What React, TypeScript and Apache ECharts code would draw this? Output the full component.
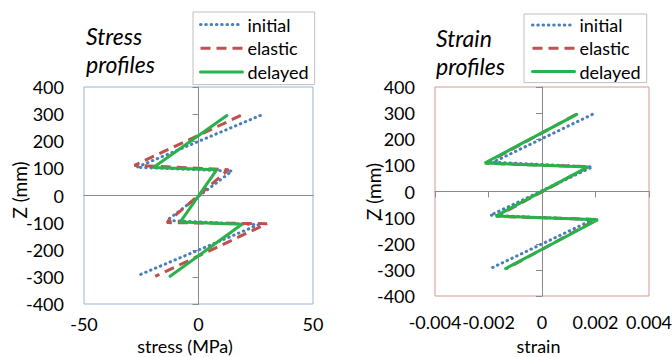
import React, { useEffect, useRef } from "react";
import * as echarts from "echarts";

const seriesNames = ["initial", "elastic", "delayed"];

// Stress profiles: [stress (MPa), Z (mm)]
const stressInitial = [[27, 295], [-27, 104], [14.6, 90], [-13.8, -92], [26.2, -108], [-27, -297]];
const stressElastic = [[18.5, 295], [-28, 111], [13.1, 95], [-13.8, -100], [29.9, -104], [-18.9, -298]];
const stressDelayed = [[12.4, 295], [-19.7, 103], [8, 95], [-8, -98], [19, -106], [-12.4, -298]];

// Strain profiles: [strain, Z (mm)]
const strainInitial = [[0.00188, 295], [-0.00183, 112], [0.00188, 94], [-0.00193, -91], [0.0019, -108], [-0.00193, -295]];
const strainElastic = [[0.00128, 295], [-0.0021, 108], [0.00175, 95], [-0.0017, -95], [0.00205, -107], [-0.00132, -295]];
const strainDelayed = [[0.0013, 295], [-0.00214, 109], [0.00172, 94], [-0.00173, -94], [0.00209, -108], [-0.00136, -295]];

const stressRange = { min: -50, max: 50, interval: 50 };
const strainRange = { min: -0.004, max: 0.004, interval: 0.002 };
const zRange = { min: -400, max: 400, interval: 100 };

const titles = ["Stress\nprofiles", "Strain\nprofiles"];
const xNames = ["stress (MPa)", "strain"];
const yName = "Z (mm)";

const FONT = "Lato, 'Open Sans', sans-serif";
const AXIS_GREY = "#8a8a8a";

const lineStyles: any[] = [
  { color: "#4a7ebb", width: 3, type: [0.5, 4.8], cap: "round" },
  { color: "#c0504d", width: 3, type: [10, 6], cap: "butt" },
  { color: "#27b24a", width: 3, type: "solid", cap: "round" },
];

export default function App() {
  const ref = useRef<HTMLDivElement>(null);
  useEffect(() => {
    if (!ref.current) return;
    const chart = echarts.init(ref.current, undefined, { renderer: "svg" });

    const labelStyle = { fontFamily: FONT, fontSize: 18, color: "#000" };

    const makeXAxes = (grid: number, range: any, name: string, xMargin: number, nameGap: number, namePad: number, showXTicks: boolean) => [
      {
        gridIndex: grid, type: "value", ...range, position: "bottom",
        axisLine: { show: false, onZero: false }, axisTick: { show: false }, splitLine: { show: false },
        axisLabel: { ...labelStyle, margin: xMargin },
        name, nameLocation: "middle", nameGap, nameMoveOverlap: false,
        nameTextStyle: { fontFamily: FONT, fontSize: 18, color: "#000", padding: [0, namePad, 0, 0] },
      },
      {
        gridIndex: grid, type: "value", ...range, position: "bottom",
        axisLine: { show: true, onZero: true, lineStyle: { color: AXIS_GREY, width: 1 } },
        axisTick: { show: showXTicks, length: 6, lineStyle: { color: AXIS_GREY, width: 1 } },
        axisLabel: { show: false }, splitLine: { show: false },
      },
    ];

    const yAxesFor = (grid: number, nameGap: number, padLeft: number, padRight: number) => [
      {
        gridIndex: grid, type: "value", ...zRange, position: "left",
        axisLine: { show: false, onZero: false }, axisTick: { show: false }, splitLine: { show: false },
        axisLabel: { ...labelStyle, margin: 20 },
        name: yName, nameLocation: "middle", nameGap, nameMoveOverlap: false,
        nameTextStyle: { fontFamily: FONT, fontSize: 19, color: "#000", padding: [0, padRight, 0, padLeft] },
      },
      {
        gridIndex: grid, type: "value", ...zRange, position: "left",
        axisLine: { show: true, onZero: true, lineStyle: { color: AXIS_GREY, width: 1 } },
        axisTick: { show: true, length: 6, lineStyle: { color: AXIS_GREY, width: 1 } },
        axisLabel: { show: false }, splitLine: { show: false },
      },
    ];

    const seriesFor = (grid: number, datasets: number[][][]) =>
      datasets.map((d, i) => ({
        type: "line",
        name: seriesNames[i],
        xAxisIndex: grid * 2,
        yAxisIndex: grid * 2,
        data: d,
        symbol: "none",
        showSymbol: false,
        color: lineStyles[i].color,
        lineStyle: lineStyles[i],
        z: 2 + i,
      }));

    const legendFor = (left: number, top: number, gap: number, pad: number[]) => ({
      data: seriesNames,
      orient: "vertical",
      left, top,
      itemWidth: 42, itemHeight: 16, itemGap: gap,
      padding: pad,
      borderColor: "#bfbfbf", borderWidth: 1,
      selectedMode: false,
      itemStyle: { opacity: 0, color: "transparent", borderWidth: 0 },
      lineStyle: { width: "inherit" },
      textStyle: { fontFamily: FONT, fontSize: 18, color: "#000", width: 63 },
    });

    chart.setOption({
      animation: false,
      backgroundColor: "#fff",
      grid: [
        { left: 84, top: 87, width: 229, height: 217, show: true, borderColor: "#95b3d7", borderWidth: 1, outerBoundsMode: "none", containLabel: false },
        { left: 435, top: 87, width: 214, height: 209, show: true, borderColor: "#d99694", borderWidth: 1, outerBoundsMode: "none", containLabel: false },
      ],
      xAxis: [
        ...makeXAxes(0, stressRange, xNames[0], 11, 33, 27, false),
        ...makeXAxes(1, strainRange, xNames[1], 17, 41, 7, true),
      ],
      yAxis: [...yAxesFor(0, 55, 11, 0), ...yAxesFor(1, 52, 0, 0)],
      legend: [
        legendFor(193, 12, 5.7, [3.6, 6, 3.6, 6]),
        legendFor(524, 14, 5.3, [2, 6, 2, 7]),
      ],
      graphic: [
        { type: "text", left: 86, top: 22, style: { text: titles[0], font: `italic 23px ${FONT}`, lineHeight: 28, fill: "#000" } },
        { type: "text", left: 436, top: 24, style: { text: titles[1], font: `italic 23px ${FONT}`, lineHeight: 28, fill: "#000" } },
      ],
      series: [
        ...seriesFor(0, [stressInitial, stressElastic, stressDelayed]),
        ...seriesFor(1, [strainInitial, strainElastic, strainDelayed]),
      ],
    });
    return () => chart.dispose();
  }, []);

  return <div ref={ref} style={{ position: "fixed", left: 0, top: 0, width: 672, height: 357, background: "#fff" }} />;
}
